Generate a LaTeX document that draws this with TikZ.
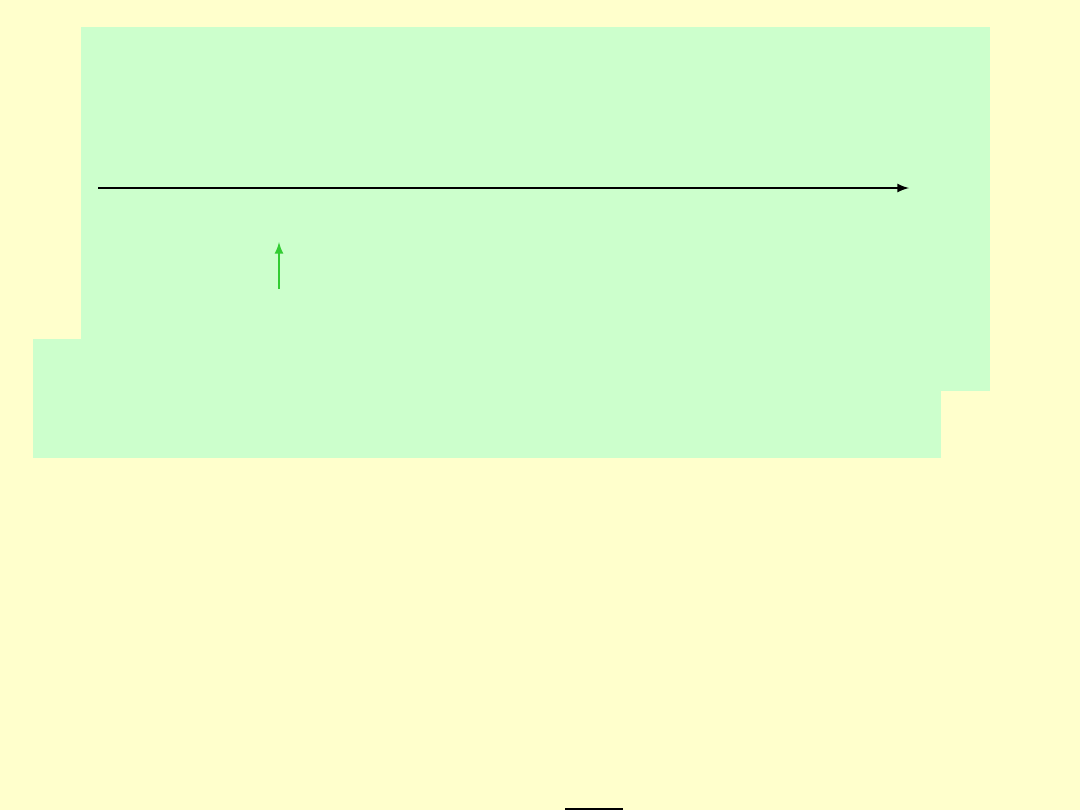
\documentclass[tikz,border=0pt]{standalone}
\definecolor{paleyellow}{HTML}{FFFFCC}
\definecolor{palegreen}{HTML}{CCFFCC}
\definecolor{arrowgreen}{HTML}{33CC33}
\begin{document}
\begin{tikzpicture}[x=0.5pt,y=-0.5pt]
\useasboundingbox (0,0) rectangle (1080,810);
\fill [paleyellow] (0,0) rectangle (1080,810);
\fill [palegreen] (81,27) rectangle (990,391);
\fill [palegreen] (33,339) rectangle (941,458);
\coordinate (axisstart) at (98,188);
\coordinate (axisend) at (909,188);
\draw [-latex, line width=1pt] (axisstart) -- (axisend);
\coordinate (markfoot) at (279,289);
\coordinate (markhead) at (279,242);
\draw [-latex, arrowgreen, line width=1pt] (markfoot) -- (markhead);
\coordinate (barleft) at (565,809);
\coordinate (barright) at (623,809);
\draw [line width=1pt] (barleft) -- (barright);
\end{tikzpicture}
\end{document}
